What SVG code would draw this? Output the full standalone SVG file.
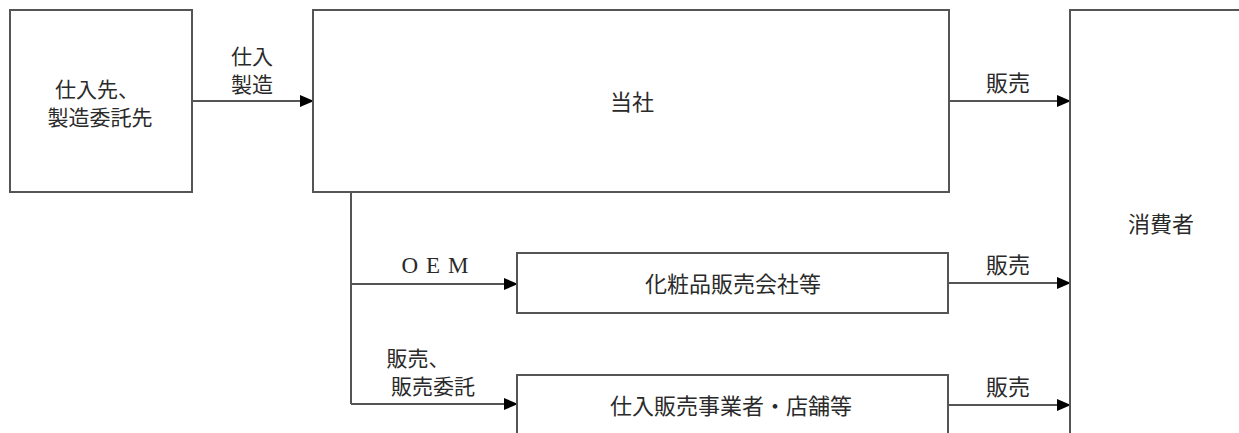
<svg xmlns="http://www.w3.org/2000/svg" width="1239" height="433" viewBox="0 0 1239 433">
<defs>
<marker id="ah" markerWidth="14" markerHeight="12" refX="13" refY="6" orient="auto" markerUnits="userSpaceOnUse">
<path d="M0,0 L14,6 L0,12 Z" fill="#000"/>
</marker>
<style>
.box{fill:#fff;stroke:#555;stroke-width:2}
.ln{fill:none;stroke:#555;stroke-width:2}
.t{font-family:"Noto Sans CJK JP","Noto Sans CJK SC",sans-serif;font-size:22px;fill:#2a2a2a;text-anchor:middle}
.s{font-size:21px}
.e{font-family:"Liberation Serif",serif;font-size:23px;fill:#2a2a2a;text-anchor:middle;letter-spacing:8px}
</style>
</defs>
<rect width="1239" height="433" fill="#fff"/>
<g id="connectors">
<line class="ln" x1="192" y1="101" x2="313" y2="101" marker-end="url(#ah)"/>
<line class="ln" x1="949" y1="101" x2="1070" y2="101" marker-end="url(#ah)"/>
<polyline class="ln" points="351,192 351,404"/>
<line class="ln" x1="351" y1="284" x2="517" y2="284" marker-end="url(#ah)"/>
<line class="ln" x1="351" y1="404" x2="517" y2="404" marker-end="url(#ah)"/>
<line class="ln" x1="948" y1="283" x2="1070" y2="283" marker-end="url(#ah)"/>
<line class="ln" x1="948" y1="405" x2="1070" y2="405" marker-end="url(#ah)"/>
<text class="t s" x="252" y="64">仕入</text>
<text class="t s" x="252" y="92">製造</text>
<text class="t" x="1008" y="91">販売</text>
<text class="e" x="439" y="273">OEM</text>
<text class="t" x="1008" y="273">販売</text>
<text class="t s" x="418" y="366">販売、</text>
<text class="t s" x="433" y="394">販売委託</text>
<text class="t" x="1008" y="395">販売</text>
</g>
<g id="supplier">
<rect class="box" x="10" y="10" width="182" height="182"/>
<text class="t s" x="97" y="97">仕入先、</text>
<text class="t s" x="100" y="125">製造委託先</text>
</g>
<g id="company">
<rect class="box" x="313" y="10" width="636" height="182"/>
<text class="t" x="632" y="110">当社</text>
</g>
<g id="cosmetics">
<rect class="box" x="517" y="253" width="431" height="60"/>
<text class="t" x="733" y="292">化粧品販売会社等</text>
</g>
<g id="retailers">
<rect class="box" x="517" y="375" width="431" height="80"/>
<text class="t" x="731" y="414">仕入販売事業者・店舗等</text>
</g>
<g id="consumer">
<rect class="box" x="1070" y="10" width="200" height="450"/>
<text class="t" x="1161" y="232">消費者</text>
</g>
</svg>
